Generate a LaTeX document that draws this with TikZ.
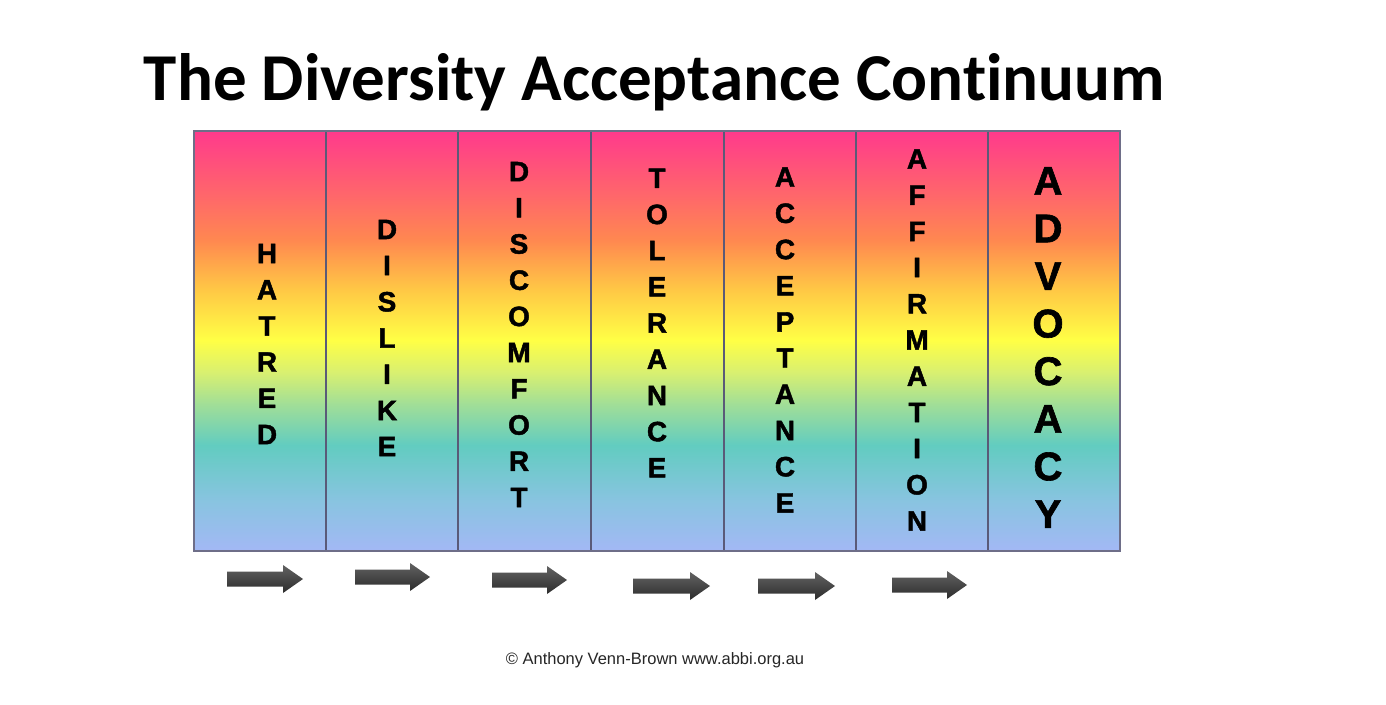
\documentclass[tikz,border=0pt]{standalone}
\usepackage{fontspec}
\setmainfont{Liberation Sans}
\newfontfamily\titlefont[Ligatures={NoCommon}]{Carlito}
\newfontfamily\heavy{Liberation Sans}[BoldFeatures={FakeBold=1.6}]
\definecolor{cA}{HTML}{A3B8F5}
\definecolor{cB}{HTML}{88C4E0}
\definecolor{cC}{HTML}{62CCC0}
\definecolor{cD}{HTML}{A0DE98}
\definecolor{cE}{HTML}{D9F070}
\definecolor{cF}{HTML}{FFFF45}
\definecolor{cG}{HTML}{FFC845}
\definecolor{cH}{HTML}{FF8850}
\definecolor{cI}{HTML}{FF6A68}
\definecolor{cJ}{HTML}{FF3A8C}
\definecolor{frameC}{HTML}{6E6E88}
\definecolor{divC}{HTML}{5A5A78}
\definecolor{arrTop}{HTML}{626262}
\definecolor{arrBot}{HTML}{2C2C2C}
\pgfdeclareverticalshading{rainbow}{100bp}{color(0bp)=(cA); color(25bp)=(cA); color(31.07bp)=(cB); color(37.6bp)=(cC); color(42.4bp)=(cD); color(46.3bp)=(cE); color(50.1bp)=(cF); color(56.1bp)=(cG); color(62bp)=(cH); color(66.8bp)=(cI); color(75bp)=(cJ); color(100bp)=(cJ)}
\tikzset{
  letters/.style={font=\heavy\bfseries\fontsize{28}{36.2}\selectfont, align=center, inner sep=0pt},
  bigletters/.style={font=\heavy\bfseries\fontsize{40}{47.6}\selectfont, align=center, inner sep=0pt},
  frame/.style={draw=frameC, line width=1.2pt},
  divider/.style={draw=divC, line width=1.2pt},
  fatarrow/.style={top color=arrTop, bottom color=arrBot, draw=none},
  titletext/.style={font=\titlefont\bfseries\fontsize{67}{78}\selectfont, anchor=base, inner sep=0pt},
  foot/.style={font=\fontsize{16.5}{19}\selectfont, anchor=base, inner sep=0pt, text=black!85}
}
\newcommand\bigarrow[3]{%
  \path[fatarrow] (#1,#3-7.5) -- (#2-20,#3-7.5) -- (#2-20,#3-14) -- (#2,#3) -- (#2-20,#3+14) -- (#2-20,#3+7.5) -- (#1,#3+7.5) -- cycle;}
\begin{document}
\begin{tikzpicture}[x=1pt,y=-1pt]
\useasboundingbox (0,0) rectangle (1386,704);
\fill[white] (0,0) rectangle (1386,704);
\node[titletext] (title) at (654.5,100) {The Diversity Acceptance Continuum};
% rainbow panel
\coordinate (tl) at (194,131);
\coordinate (br) at (1120,551);
\shade[shading=rainbow] (tl) rectangle (br);
\foreach \x in {326,458,591,724,856,988}{
  \draw[divider] (\x,131) -- (\x,551);
}
\draw[frame] (tl) rectangle (br);
% words
\node[letters] (hatred) at (267,344) {H\\A\\T\\R\\E\\D};
\node[letters] (dislike) at (387,338) {D\\I\\S\\L\\I\\K\\E};
\node[letters] (discomfort) at (519,334.5) {D\\I\\S\\C\\O\\M\\F\\O\\R\\T};
\node[letters] (tolerance) at (657,323) {T\\O\\L\\E\\R\\A\\N\\C\\E};
\node[letters] (acceptance) at (785,340) {A\\C\\C\\E\\P\\T\\A\\N\\C\\E};
\node[letters] (affirmation) at (917,340) {A\\F\\F\\I\\R\\M\\A\\T\\I\\O\\N};
\node[bigletters] (advocacy) at (1048,347.5) {A\\D\\V\\O\\C\\A\\C\\Y};
% arrows
\bigarrow{227}{303}{579}
\bigarrow{355}{430}{577}
\bigarrow{492}{567}{580}
\bigarrow{633}{710}{586}
\bigarrow{758}{835}{586}
\bigarrow{892}{967}{585}
% footer
\node[foot] (credit) at (655,664) {© Anthony Venn-Brown www.abbi.org.au};
\end{tikzpicture}
\end{document}
